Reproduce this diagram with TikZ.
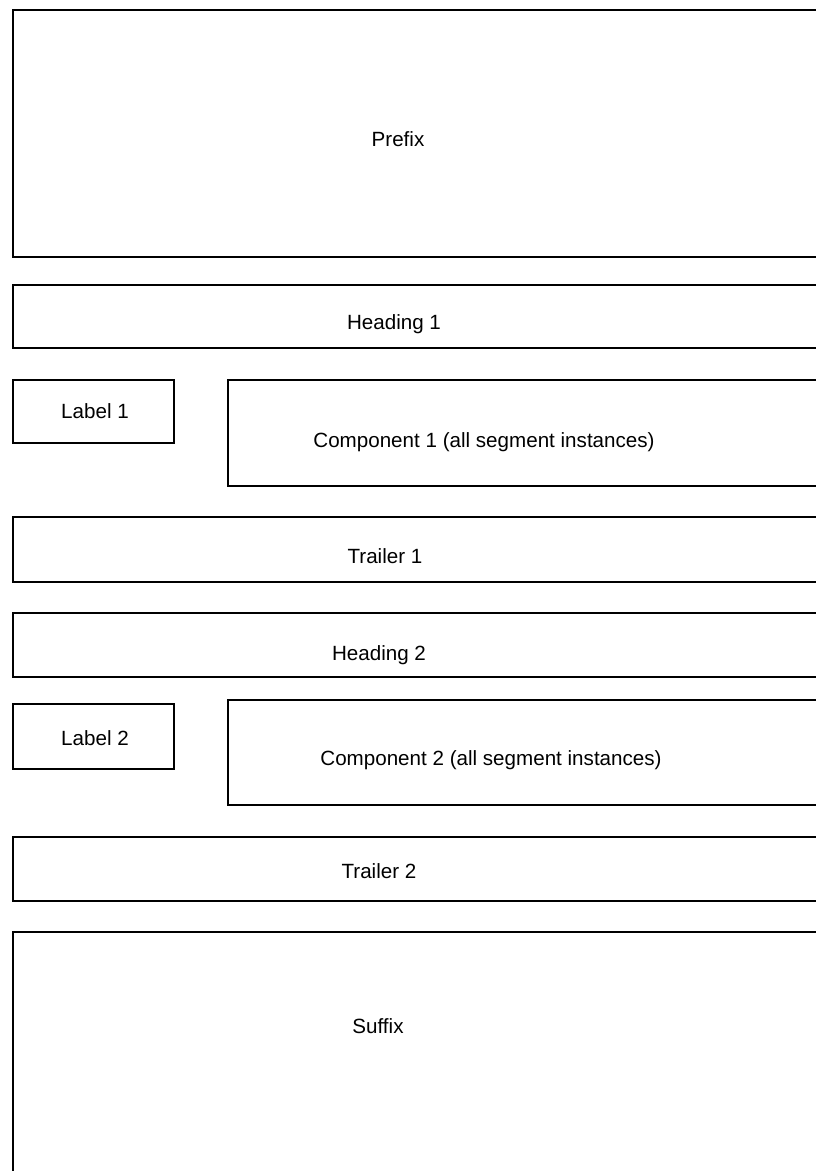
\documentclass[tikz,border=0pt]{standalone}
\usepackage{fontspec}
\setmainfont{Liberation Sans}
\begin{document}
\begin{tikzpicture}[x=1pt,y=-1pt,
  box/.style={draw=black,line width=1.6pt,rectangle,anchor=north west,inner sep=0pt},
  txt/.style={anchor=base,inner sep=0pt,font=\fontsize{20.6}{24}\selectfont}]
\clip (0,0) rectangle (816,1171);
\fill[white] (0,0) rectangle (816,1171);
% boxes
\node[box,minimum width=820pt,minimum height=247pt] (prefix) at (12,9) {};
\node[box,minimum width=820pt,minimum height=63pt] (head1) at (12,284) {};
\node[box,minimum width=161pt,minimum height=63pt] (lab1) at (12,379) {};
\node[box,minimum width=605pt,minimum height=106pt] (comp1) at (227,379) {};
\node[box,minimum width=820pt,minimum height=65pt] (trail1) at (12,516) {};
\node[box,minimum width=820pt,minimum height=64pt] (head2) at (12,612) {};
\node[box,minimum width=161pt,minimum height=65pt] (lab2) at (12,703) {};
\node[box,minimum width=605pt,minimum height=105pt] (comp2) at (227,699) {};
\node[box,minimum width=820pt,minimum height=64pt] (trail2) at (12,836) {};
\node[box,minimum width=820pt,minimum height=260pt] (suffix) at (12,931) {};
% texts
\node[txt] (tprefix) at (398,146) {Prefix};
\node[txt] (thead1) at (394,329) {Heading 1};
\node[txt] (tlab1) at (95,418) {Label 1};
\node[txt] (tcomp1) at (484,447) {Component 1 (all segment instances)};
\node[txt] (ttrail1) at (385,563) {Trailer 1};
\node[txt] (thead2) at (379,660) {Heading 2};
\node[txt] (tlab2) at (95,745) {Label 2};
\node[txt] (tcomp2) at (491,765) {Component 2 (all segment instances)};
\node[txt] (ttrail2) at (379,878) {Trailer 2};
\node[txt] (tsuffix) at (378,1033) {Suffix};
\end{tikzpicture}
\end{document}
